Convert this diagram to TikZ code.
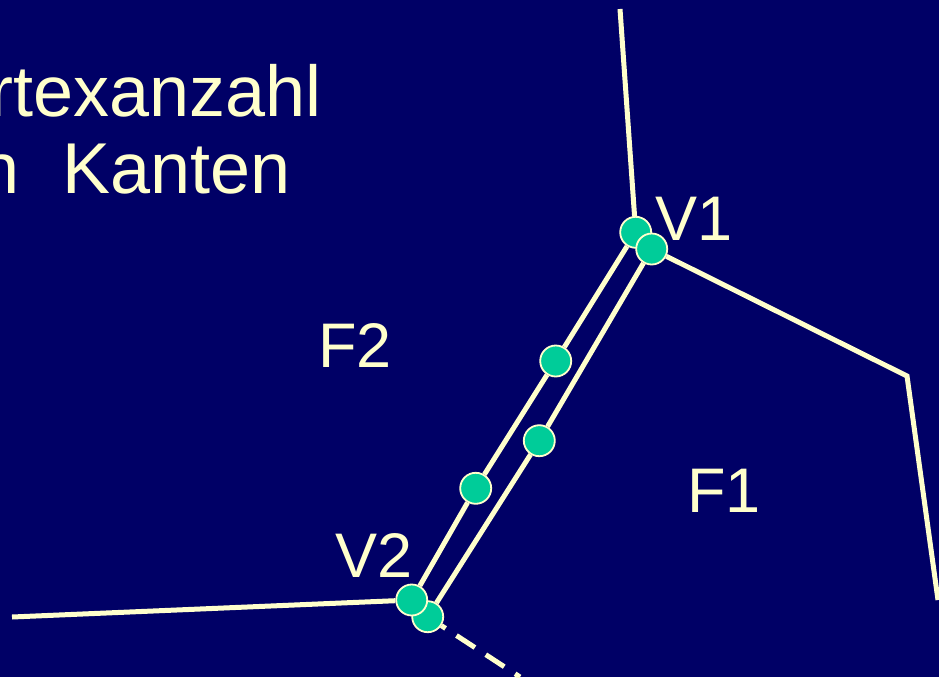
\documentclass[tikz,border=0pt]{standalone}
\usepackage{fontspec}
\setmainfont{Liberation Sans}
\usetikzlibrary{backgrounds}
\definecolor{navy}{HTML}{000066}
\definecolor{cream}{HTML}{FFFFCC}
\definecolor{dotgreen}{HTML}{00CC99}
\tikzset{
  edge/.style={cream,line width=5pt},
  vdot/.style={circle,fill=dotgreen,draw=cream,line width=1.8pt,minimum size=31pt,inner sep=0pt},
  facelabel/.style={text=cream,inner sep=0pt,anchor=base west,font=\fontsize{63}{70}\selectfont},
  titleline/.style={text=cream,inner sep=0pt,anchor=base east,font=\fontsize{72}{80}\selectfont}
}
\begin{document}
\begin{tikzpicture}[x=1pt,y=-1pt]
\useasboundingbox (0,0) rectangle (939,677);
\begin{scope}[on background layer]
\fill[navy] (0,0) rectangle (939,677);
\end{scope}
\node[titleline] (title1) at (322,116) {rtexanzahl};
\node[titleline] (title2) at (291,193) {n\hspace{0.6em}Kanten};
\coordinate (top) at (620,9);
\coordinate (bend) at (907,376);
\coordinate (right) at (938,600);
\coordinate (left) at (12,617);
\coordinate (dashend) at (520,677);
\node[vdot] (v1a) at (635.7,232.3) {};
\node[vdot] (v1b) at (651.7,249) {};
\node[vdot] (m1) at (555.7,361) {};
\node[vdot] (m2) at (475.7,488.3) {};
\node[vdot] (m3) at (539.3,440.7) {};
\node[vdot] (v2b) at (427.7,616.7) {};
\node[vdot] (v2a) at (411.7,600) {};
\node[facelabel] (lv1) at (655,240) {V1};
\node[facelabel] (lv2) at (335,577) {V2};
\node[facelabel] (lf1) at (687,512) {F1};
\node[facelabel] (lf2) at (318,367) {F2};
\begin{scope}[on background layer]
\draw[edge] (top) -- (v1a);
\draw[edge] (v1b) -- (bend) -- (right);
\draw[edge] (left) -- (v2a);
\draw[edge] (v1a) -- (m1) -- (m2) -- (v2a);
\draw[edge] (v1b) -- (m3) -- (v2b);
\draw[edge,dash pattern=on 22pt off 13pt,dash phase=17pt] (v2b) -- (dashend);
\end{scope}
\end{tikzpicture}
\end{document}
